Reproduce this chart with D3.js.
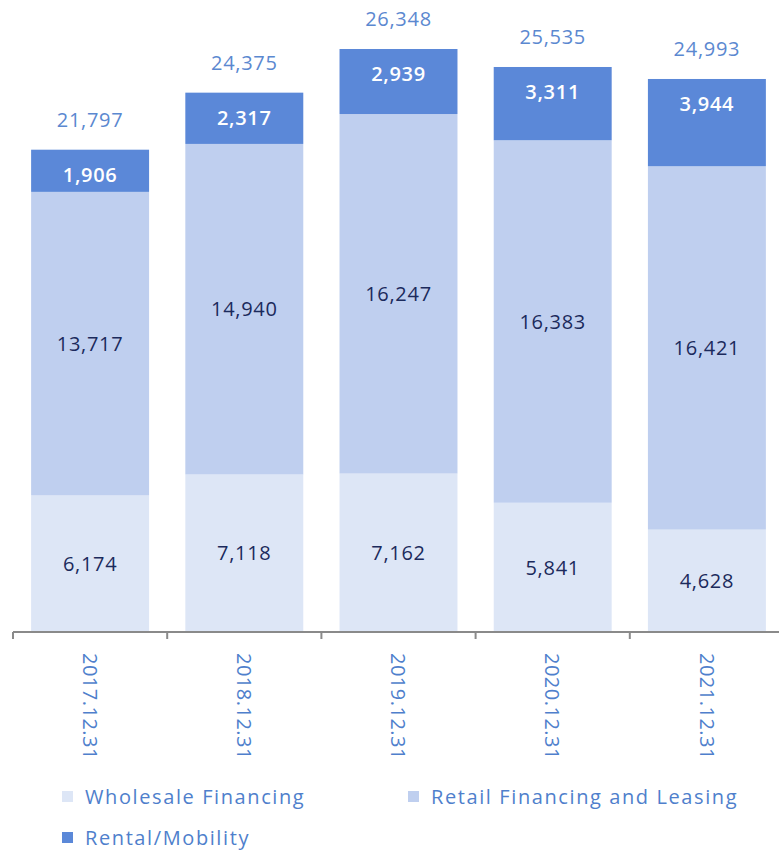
<!DOCTYPE html>
<html>
<head>
<meta charset="utf-8">
<script src="https://cdn.jsdelivr.net/npm/d3@7"></script>
<style>
  html, body { margin: 0; padding: 0; background: #ffffff; }
  svg { display: block; font-family: "Open Sans", Lato, sans-serif; }
</style>
</head>
<body>
<svg id="chart" width="779" height="854"></svg>
<script>
// Period-end balances by business line
const periods = ["2017.12.31", "2018.12.31", "2019.12.31", "2020.12.31", "2021.12.31"];
const wholesale = [6174, 7118, 7162, 5841, 4628];
const retail = [13717, 14940, 16247, 16383, 16421];
const rental = [1906, 2317, 2939, 3311, 3944];
const totals = [21797, 24375, 26348, 25535, 24993];

const seriesKeys = ["wholesale", "retail", "rental"];
const seriesNames = ["Wholesale Financing", "Retail Financing and Leasing", "Rental/Mobility"];
const seriesColors = ["#dde6f6", "#bfcfef", "#5b88d8"];
const labelColors = ["#1b2a5c", "#1b2a5c", "#ffffff"];

const rows = periods.map((p, i) => ({
  period: p, wholesale: wholesale[i], retail: retail[i], rental: rental[i], total: totals[i]
}));

const svg = d3.select("#chart");
const baseY = 632;
const topY = 49;

const x = d3.scaleBand()
  .domain(periods)
  .range([13, 784])
  .paddingInner(0.235)
  .paddingOuter(0.1175);

const y = d3.scaleLinear()
  .domain([0, d3.max(totals)])
  .range([baseY, topY]);

const stacked = d3.stack().keys(seriesKeys)(rows);

const layers = svg.append("g").selectAll("g")
  .data(stacked)
  .join("g")
  .attr("fill", (d, i) => seriesColors[i]);

layers.selectAll("rect")
  .data(d => d)
  .join("rect")
  .attr("x", d => x(d.data.period))
  .attr("y", d => y(d[1]))
  .attr("width", x.bandwidth())
  .attr("height", d => y(d[0]) - y(d[1]));

// Segment values: lower blocks centred, top block pinned near its upper edge
const labels = svg.append("g")
  .attr("text-anchor", "middle")
  .attr("font-size", 20)
  .attr("letter-spacing", 0.7);

stacked.forEach((layer, li) => {
  labels.selectAll(null)
    .data(layer)
    .join("text")
    .attr("x", d => x(d.data.period) + x.bandwidth() / 2)
    .attr("y", d => li === 2 ? y(d[1]) + 25 : (y(d[0]) + y(d[1])) / 2)
    .attr("dy", "0.36em")
    .attr("fill", labelColors[li])
    .attr("font-weight", li === 2 ? 600 : 400)
    .text(d => d3.format(",")(d[1] - d[0]));
});

// Totals above each bar
labels.selectAll(null)
  .data(rows)
  .join("text")
  .attr("x", d => x(d.period) + x.bandwidth() / 2)
  .attr("y", d => y(d.total) - 23)
  .attr("fill", "#5b88d0")
  .text(d => d3.format(",")(d.total));

// Category axis with ticks at band boundaries
const axisG = svg.append("g");
axisG.append("line")
  .attr("x1", 13).attr("x2", 779)
  .attr("y1", baseY).attr("y2", baseY)
  .attr("stroke", "#8a8a8a").attr("stroke-width", 2);

const step = x.step();
const boundaries = d3.range(periods.length + 1).map(i => x.range()[0] + i * step);
axisG.selectAll("line.tick")
  .data(boundaries)
  .join("line")
  .attr("class", "tick")
  .attr("x1", d => d).attr("x2", d => d)
  .attr("y1", baseY).attr("y2", baseY + 7)
  .attr("stroke", "#8a8a8a").attr("stroke-width", 2);

axisG.selectAll("text")
  .data(periods)
  .join("text")
  .attr("transform", d => `translate(${x(d) + x.bandwidth() / 2},653) rotate(90)`)
  .attr("dy", "0.36em")
  .attr("text-anchor", "start")
  .attr("font-size", 20)
  .attr("letter-spacing", 0.5)
  .attr("fill", "#4f7fcc")
  .text(d => d);

// Legend
const legendPos = [[62, 797], [408, 797], [62, 838]];
const legend = svg.append("g")
  .selectAll("g")
  .data(seriesNames)
  .join("g")
  .attr("transform", (d, i) => `translate(${legendPos[i][0]},${legendPos[i][1]})`);

legend.append("rect")
  .attr("x", 0).attr("y", -6)
  .attr("width", 11).attr("height", 11)
  .attr("fill", (d, i) => seriesColors[i]);

legend.append("text")
  .attr("x", 23)
  .attr("dy", "0.36em")
  .attr("font-size", 20)
  .attr("letter-spacing", 1.6)
  .attr("fill", "#4f7fcc")
  .text(d => d);
</script>
</body>
</html>
